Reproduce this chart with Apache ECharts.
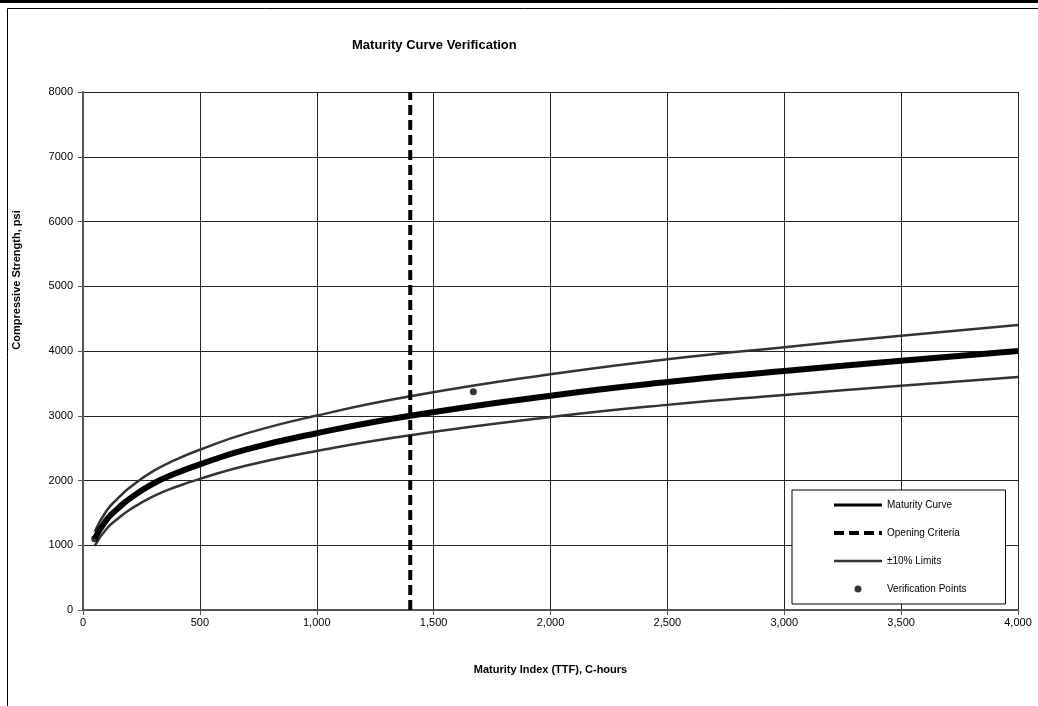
<!DOCTYPE html>
<html>
<head>
<meta charset="utf-8">
<script src="https://cdn.jsdelivr.net/npm/echarts@6/dist/echarts.min.js"></script>
<style>
  html, body { margin: 0; padding: 0; background: #fff; }
  #chart { width: 1038px; height: 706px; }
</style>
</head>
<body>
<div id="chart"></div>
<script>
// maturity index (TTF), C-hours
var ttf = [50, 100, 150, 200, 300, 400, 500, 700, 1000, 1400, 2000, 2500, 3000, 3500, 4000];
// compressive strength, psi
var maturityCurve = [1100, 1390, 1570, 1720, 1950, 2115, 2250, 2480, 2730, 3000, 3310, 3520, 3690, 3850, 4000];
var upperLimit = [1210, 1530, 1727, 1892, 2145, 2327, 2475, 2728, 3003, 3300, 3641, 3872, 4059, 4235, 4400];
var lowerLimit = [990, 1251, 1413, 1548, 1755, 1904, 2025, 2232, 2457, 2700, 2979, 3168, 3321, 3465, 3600];

var openingX = [1400, 1400];
var openingY = [0, 8000];

var verifyX = [50, 1670];
var verifyY = [1100, 3370];

function pairs(xs, ys) {
  var out = [];
  for (var i = 0; i < xs.length; i++) out.push([xs[i], ys[i]]);
  return out;
}

var fontFam = "Arial, 'Liberation Sans'";
var labelFont = { color: "#000", fontFamily: fontFam, fontSize: 11 };
var noSymbol = { opacity: 0 };

var chart = echarts.init(document.getElementById("chart"), null, { renderer: "canvas" });

chart.setOption({
  backgroundColor: "#fff",
  animation: false,
  title: {
    text: "Maturity Curve Verification",
    left: 347,
    top: 34,
    textStyle: { fontFamily: fontFam, fontSize: 13, fontWeight: "bold", color: "#000" }
  },
  graphic: [
    { type: "rect", shape: { x: 0, y: 0, width: 1038, height: 3 }, style: { fill: "#000" } },
    { type: "rect", shape: { x: 7.5, y: 8.5, width: 1100, height: 800 }, style: { fill: null, stroke: "#000", lineWidth: 1 } },
    {
      type: "text",
      x: 11, y: 280,
      rotation: Math.PI / 2,
      style: {
        text: "Compressive Strength, psi",
        font: "bold 11px Arial, 'Liberation Sans'",
        fill: "#000",
        textAlign: "center",
        textVerticalAlign: "top"
      }
    }
  ],
  grid: { left: 83, right: 20, top: 92, bottom: 96, show: false },
  xAxis: {
    type: "value",
    min: 0, max: 4000, interval: 500,
    name: "Maturity Index (TTF), C-hours",
    nameLocation: "middle",
    nameGap: 54,
    nameTextStyle: { fontFamily: fontFam, fontSize: 11, fontWeight: "bold", color: "#000" },
    axisLine: { show: true, onZero: false, lineStyle: { color: "#555", width: 2 } },
    axisTick: { show: true, length: 5, inside: false, lineStyle: { color: "#555" } },
    axisLabel: Object.assign({ margin: 7, formatter: function (v) { return v.toLocaleString("en-US"); } }, labelFont),
    splitLine: { show: true, lineStyle: { color: "#222", width: 1 } }
  },
  yAxis: {
    type: "value",
    min: 0, max: 8000, interval: 1000,
    axisLine: { show: true, lineStyle: { color: "#555", width: 2 } },
    axisTick: { show: true, length: 5, lineStyle: { color: "#555" } },
    axisLabel: Object.assign({ margin: 10, formatter: function (v) { return String(v); } }, labelFont),
    splitLine: { show: true, lineStyle: { color: "#222", width: 1 } }
  },
  legend: {
    orient: "vertical",
    left: 792,
    top: 490,
    backgroundColor: "#fff",
    borderColor: "#000",
    borderWidth: 1,
    padding: [10, 39, 10, 40],
    itemWidth: 48,
    itemHeight: 7,
    itemGap: 18,
    textStyle: { fontFamily: fontFam, fontSize: 10, color: "#000" },
    data: [
      { name: "Maturity Curve", itemStyle: noSymbol, lineStyle: { width: 3, color: "#000", opacity: 1 } },
      { name: "Opening Criteria", itemStyle: noSymbol, lineStyle: { width: 4, color: "#000", opacity: 1 } },
      { name: "±10% Limits", itemStyle: noSymbol, lineStyle: { width: 2.5, color: "#333", opacity: 1 } },
      { name: "Verification Points", icon: "circle", itemStyle: { color: "#000" } }
    ]
  },
  series: [
    {
      name: "±10% Limits",
      type: "line",
      smooth: true,
      showSymbol: false,
      symbol: "none",
      data: pairs(ttf, upperLimit),
      lineStyle: { color: "#333", width: 2.5 },
      itemStyle: { color: "#333" },
      z: 3
    },
    {
      name: "±10% Limits",
      type: "line",
      smooth: true,
      showSymbol: false,
      symbol: "none",
      data: pairs(ttf, lowerLimit),
      lineStyle: { color: "#333", width: 2.5 },
      itemStyle: { color: "#333" },
      z: 3
    },
    {
      name: "Maturity Curve",
      type: "line",
      smooth: true,
      showSymbol: false,
      symbol: "none",
      data: pairs(ttf, maturityCurve),
      lineStyle: { color: "#000", width: 6 },
      itemStyle: { color: "#000" },
      z: 4
    },
    {
      name: "Opening Criteria",
      type: "line",
      showSymbol: false,
      symbol: "none",
      data: pairs(openingX, openingY),
      lineStyle: { color: "#000", width: 4, type: [10, 5] },
      itemStyle: { color: "#000" },
      z: 5
    },
    {
      name: "Verification Points",
      type: "scatter",
      symbol: "circle",
      symbolSize: 7,
      data: pairs(verifyX, verifyY),
      itemStyle: { color: "#000" },
      z: 6
    }
  ]
});
</script>
</body>
</html>
